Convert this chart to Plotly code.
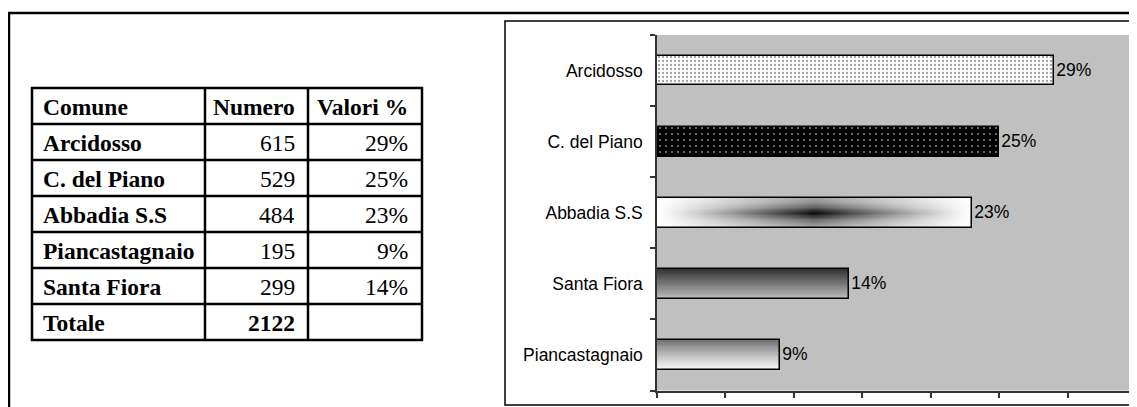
import numpy as np
import plotly.graph_objects as go

# the page body adds an 8px margin, so the figure covers reference pixels 8..1137 / 8..407
OFF = 8
W, H = 1137 - OFF, 407 - OFF

# ---------------- data ----------------
header = ["Comune", "Numero", "Valori %"]
comuni = ["Arcidosso", "C. del Piano", "Abbadia S.S", "Piancastagnaio", "Santa Fiora"]
numero = [615, 529, 484, 195, 299]
valori_pct = [29, 25, 23, 9, 14]
totale_label = "Totale"
totale = 2122

# order of the bars in the chart (top to bottom)
chart_order = ["Arcidosso", "C. del Piano", "Abbadia S.S", "Santa Fiora", "Piancastagnaio"]
x_ticks = [0, 5, 10, 15, 20, 25, 30, 35]

chart_vals = [valori_pct[comuni.index(c)] for c in chart_order]
ypos = list(range(len(chart_order)))

# ---------------- helpers (reference pixel -> paper) ----------------
def px(x):
    return (x - OFF) / W

def py(y):
    return 1 - (y - OFF) / H

BW = 0.42  # bar thickness (category units)
SERIF = "Liberation Serif, Times New Roman, serif"
SANS = "Liberation Sans, Arial, sans-serif"

fig = go.Figure()

# gradient fills (drawn as smooth heatmaps inside the bar extents)
fill_kind = {"Abbadia S.S": "center", "Santa Fiora": "dark_top", "Piancastagnaio": "gray_top"}

def gradient(i, val, kind):
    nx, ny = 100, 24
    xe = np.linspace(0, val, nx + 1)
    ye = np.linspace(i - BW / 2, i + BW / 2, ny + 1)
    xc = (xe[:-1] + xe[1:]) / 2
    yc = (ye[:-1] + ye[1:]) / 2
    U, V = np.meshgrid(xc / val * 2 - 1, (yc - i) / (BW / 2))
    if kind == "center":
        D = (1 - np.abs(U)) ** 1.15 * (0.38 + 0.62 * (1 - np.abs(V)) ** 1.8)
        Z = 1 - D
    elif kind == "dark_top":
        Z = 0.2 + 0.56 * (V + 1) / 2
    else:
        Z = 0.42 + 0.57 * ((V + 1) / 2) ** 0.8
    return go.Heatmap(x=xe, y=ye, z=Z, zmin=0, zmax=1,
                      colorscale=[[0, "black"], [1, "white"]],
                      showscale=False, zsmooth="best", hoverinfo="skip")

for c, kind in fill_kind.items():
    i = chart_order.index(c)
    fig.add_trace(gradient(i, chart_vals[i], kind))

# dotted pattern fills
pat_names = ["Arcidosso", "C. del Piano"]
pat_idx = [chart_order.index(c) for c in pat_names]
fig.add_trace(go.Bar(
    y=pat_idx, x=[chart_vals[i] for i in pat_idx], orientation="h", width=BW,
    marker=dict(color=["white", "black"], line=dict(width=0),
                pattern=dict(shape=[".", "."], bgcolor=["white", "black"],
                             fgcolor=["#101010", "#e8e8e8"], size=[4, 6],
                             solidity=[0.25, 0.1])),
    hoverinfo="skip"))

# outlines + value labels
fig.add_trace(go.Bar(
    y=ypos, x=chart_vals, orientation="h", width=BW,
    marker=dict(color="rgba(0,0,0,0)", line=dict(color="black", width=1.5)),
    texttemplate="%{x}%", textposition="outside",
    textfont=dict(family=SANS, size=17.5, color="black"),
    cliponaxis=False, hoverinfo="skip"))

# ---------------- table (shapes + annotations) ----------------
row_y = [88, 124, 160, 196, 232, 268, 304, 340]
col_x = [32, 205, 308, 422]
shapes = []
for yy in row_y:
    shapes.append(dict(type="line", xref="paper", yref="paper",
                       x0=px(col_x[0] - 1), x1=px(col_x[-1] + 1), y0=py(yy), y1=py(yy),
                       line=dict(color="black", width=2.5)))
for xx in col_x:
    shapes.append(dict(type="line", xref="paper", yref="paper",
                       x0=px(xx), x1=px(xx), y0=py(row_y[0] - 1), y1=py(row_y[-1] + 1),
                       line=dict(color="black", width=2.5)))

# outer frame (top + left)
shapes.append(dict(type="line", xref="paper", yref="paper", x0=px(8), x1=1.01,
                   y0=py(13), y1=py(13), line=dict(color="black", width=2.5)))
shapes.append(dict(type="line", xref="paper", yref="paper", x0=px(9), x1=px(9),
                   y0=py(13), y1=-0.01, line=dict(color="black", width=2.5)))
# chart frame
shapes.append(dict(type="rect", xref="paper", yref="paper", x0=px(505), x1=1.02,
                   y0=py(405), y1=py(21), line=dict(color="black", width=1.5)))
# plot-area right border
shapes.append(dict(type="line", xref="x", yref="paper", x0=x_ticks[-1], x1=x_ticks[-1],
                   y0=py(390.5), y1=py(35), line=dict(color="#7a7a7a", width=1)))

ann = []
text_x = [(41, "left"), (297, "right"), (410, "right")]
rows = [header] + [[c, str(n), f"{p}%"] for c, n, p in zip(comuni, numero, valori_pct)] \
       + [[totale_label, str(totale), ""]]
for r, row in enumerate(rows):
    yc = (row_y[r] + row_y[r + 1]) / 2
    for k, txt in enumerate(row):
        if not txt:
            continue
        bold = (r == 0) or (k == 0) or (r == len(rows) - 1)
        t = f"<b>{txt}</b>" if bold else txt
        xx, anc = text_x[k]
        ann.append(dict(xref="paper", yref="paper", x=px(xx), y=py(yc + 1),
                        xanchor=anc, yanchor="middle", text=t, showarrow=False,
                        font=dict(family=SERIF, size=23.5, color="black")))

fig.update_layout(
    width=W, height=H, margin=dict(l=0, r=0, t=0, b=0),
    paper_bgcolor="white", plot_bgcolor="#c0c0c0",
    barmode="overlay", showlegend=False, bargap=0,
    shapes=shapes, annotations=ann,
    xaxis=dict(domain=[px(657), min(1.0, px(1136))], range=[x_ticks[0], x_ticks[-1]],
               tickmode="array", tickvals=x_ticks, showticklabels=False,
               ticks="outside", ticklen=6, tickwidth=1.5, tickcolor="#333",
               showline=True, linecolor="#333", linewidth=1.5,
               showgrid=False, zeroline=False, fixedrange=True),
    yaxis=dict(domain=[py(390.5), py(35)], range=[len(ypos) - 0.5, -0.5],
               tickmode="array", tickvals=ypos, ticktext=chart_order, ticks="",
               tickfont=dict(family=SANS, size=17.5, color="black"),
               ticklabelstandoff=9,
               minor=dict(tickmode="array", tickvals=[v - 0.5 for v in ypos] + [ypos[-1] + 0.5],
                          ticks="outside", ticklen=5, tickwidth=1.5, tickcolor="#333",
                          showgrid=False),
               showline=True, linecolor="#333", linewidth=1.5,
               showgrid=False, zeroline=False, fixedrange=True),
)

fig.write_html("out.html")
